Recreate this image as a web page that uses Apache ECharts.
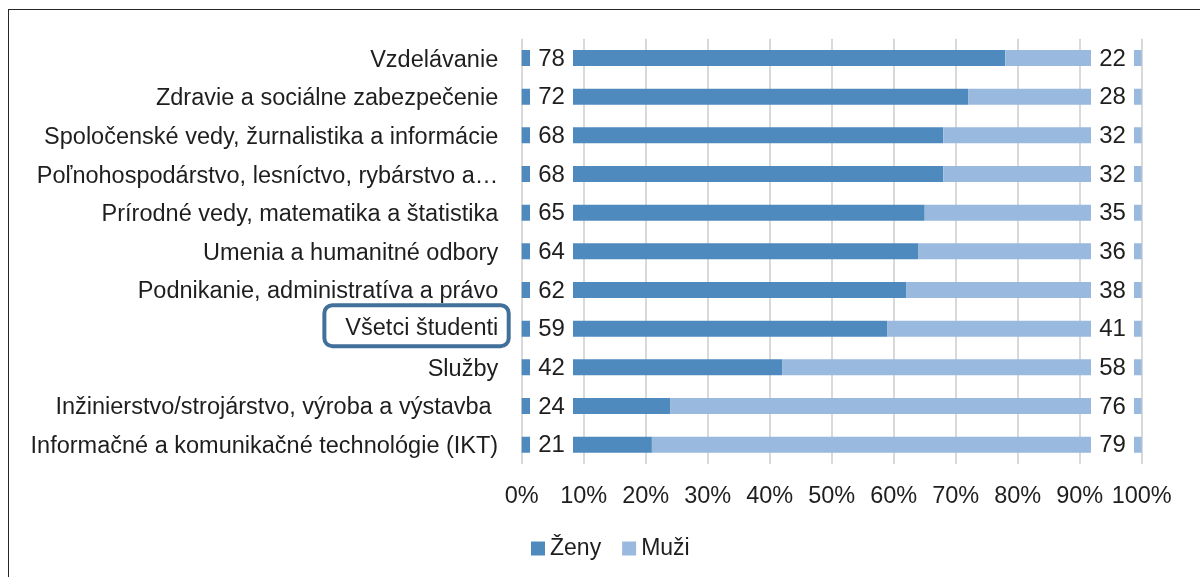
<!DOCTYPE html>
<html>
<head>
<meta charset="utf-8">
<script src="https://cdn.jsdelivr.net/npm/echarts@6/dist/echarts.min.js"></script>
<style>
  html, body { margin: 0; padding: 0; width: 1200px; height: 577px; overflow: hidden; background: #fff; }
  #frame { position: absolute; left: 8px; top: 9px; width: 1400px; height: 800px; border: 1.6px solid #262626; box-sizing: border-box; }
  #chart { position: absolute; left: 0; top: 0; width: 1200px; height: 577px; }
</style>
</head>
<body>
<div id="frame"></div>
<div id="chart"></div>
<script>
const categories = [
  'Vzdelávanie',
  'Zdravie a sociálne zabezpečenie',
  'Spoločenské vedy, žurnalistika a informácie',
  'Poľnohospodárstvo, lesníctvo, rybárstvo a…',
  'Prírodné vedy, matematika a štatistika',
  'Umenia a humanitné odbory',
  'Podnikanie, administratíva a právo',
  'Všetci študenti',
  'Služby',
  'Inžinierstvo/strojárstvo, výroba a výstavba ',
  'Informačné a komunikačné technológie (IKT)'
];
const zeny = [78, 72, 68, 68, 65, 64, 62, 59, 42, 24, 21];
const muzi = [22, 28, 32, 32, 35, 36, 38, 41, 58, 76, 79];
const xTicks = [0, 10, 20, 30, 40, 50, 60, 70, 80, 90, 100];
const highlighted = 'Všetci študenti';

const FONT = "'Liberation Sans', Arial, sans-serif";
const TXT = '#1e1e1e';
const DARK = '#4f8abe';
const LIGHT = '#9ab9df';

const chart = echarts.init(document.getElementById('chart'), null, { renderer: 'canvas' });

function labelBox(pos, dist) {
  return {
    show: true,
    position: pos,
    distance: dist,
    formatter: p => '{a|' + p.value + '}',
    rich: {
      a: {
        width: 43, height: 22, align: 'center', backgroundColor: '#ffffff',
        fontSize: 24, fontFamily: FONT, color: TXT, padding: [2, 0, 0, 0]
      }
    }
  };
}

chart.setOption({
  animation: false,
  textStyle: { fontFamily: FONT },
  grid: { left: 521.7, right: 58.3, top: 38.7, bottom: 113, containLabel: false },
  xAxis: {
    type: 'value', min: 0, max: 100, interval: 10,
    axisLine: { show: false }, axisTick: { show: false },
    splitLine: { show: true, lineStyle: { color: '#d9d9d9', width: 2 } },
    axisLabel: {
      fontSize: 23.5, fontFamily: FONT, color: TXT, margin: 21,
      formatter: v => xTicks.includes(v) ? v + '%' : ''
    }
  },
  yAxis: {
    type: 'category', inverse: true, data: categories,
    axisLine: { show: false }, axisTick: { show: false },
    axisLabel: {
      margin: 13, fontSize: 23.5, fontFamily: FONT, color: TXT,
      formatter: v => v === highlighted ? '{b|' + v + '}\n{s| }' : '{n|' + v + '}',
      rich: {
        n: { fontSize: 23.5, fontFamily: FONT, color: TXT, lineHeight: 24, padding: [4, 10.5, 0, 0] },
        b: { fontSize: 23.5, fontFamily: FONT, color: TXT, lineHeight: 24,
             padding: [11, 10.5, 6, 21], borderColor: '#41709b', borderWidth: 4, borderRadius: 8 },
        s: { fontSize: 1, lineHeight: 6, height: 6 }
      }
    }
  },
  legend: {
    left: 531, top: 537, padding: 0, icon: 'rect', itemWidth: 14, itemHeight: 14, itemGap: 21,
    textStyle: { fontSize: 23, fontFamily: FONT, color: TXT },
    data: ['Ženy', 'Muži']
  },
  series: [
    {
      name: 'Ženy', type: 'bar', stack: 'total', barWidth: 16, data: zeny,
      itemStyle: { color: DARK },
      label: labelBox('insideLeft', 8.3)
    },
    {
      name: 'Muži', type: 'bar', stack: 'total', barWidth: 16, data: muzi,
      itemStyle: { color: LIGHT },
      label: labelBox('insideRight', 7.7)
    }
  ]
});
</script>
</body>
</html>
